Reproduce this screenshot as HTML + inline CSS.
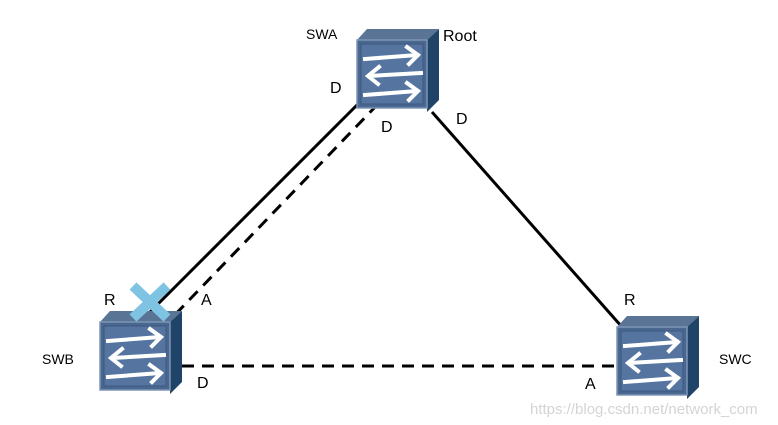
<!DOCTYPE html>
<html><head><meta charset="utf-8"><style>
html,body{margin:0;padding:0;background:#fff;}
svg{display:block;font-family:"Liberation Sans",sans-serif;}
</style></head><body>
<svg width="778" height="425" viewBox="0 0 778 425" xmlns="http://www.w3.org/2000/svg">
<defs>
<g id="sw">
 <polygon points="0,0 10,-11 82,-11 70,0" fill="#5a7496"/>
 <polygon points="70,0 82,-11 82,60 70,72" fill="#1f4468"/>
 <rect x="0" y="0" width="70" height="68" fill="#4a6790" stroke="#7d95b5" stroke-width="1.5"/>
 <rect x="4" y="4" width="62" height="60" fill="#5575a0" stroke="#3c5880" stroke-width="1"/>
 <g fill="none" stroke="#fff" stroke-width="4" stroke-linecap="square">
  <line x1="8" y1="19" x2="60" y2="15"/><polyline points="50,7 61,15 52,24"/>
  <line x1="64" y1="33" x2="12" y2="36"/><polyline points="22,27 11,36 21,44"/>
  <line x1="8" y1="55" x2="60" y2="51"/><polyline points="50,43 61,51 52,60"/>
 </g>
</g>
</defs>
<g stroke="#000" stroke-width="3" fill="none">
 <line x1="362" y1="100" x2="140" y2="322"/>
 <line x1="378" y1="104" x2="168" y2="322" stroke-dasharray="12,8"/>
 <line x1="432" y1="112" x2="622" y2="327"/>
 <line x1="182" y1="366" x2="617" y2="366" stroke-dasharray="12,8"/>
</g>
<use href="#sw" x="357" y="40"/>
<use href="#sw" x="100" y="322"/>
<use href="#sw" x="617" y="327"/>
<g stroke="#7ec4e2" stroke-width="10">
 <line x1="133" y1="286" x2="167" y2="318"/>
 <line x1="167" y1="286" x2="133" y2="318"/>
</g>
<g font-size="16" fill="#000">
 <text x="306" y="39" font-size="14">SWA</text>
 <text x="443" y="41">Root</text>
 <text x="330" y="93">D</text>
 <text x="381" y="132">D</text>
 <text x="456" y="124">D</text>
 <text x="104" y="305">R</text>
 <text x="201" y="305">A</text>
 <text x="42" y="364" font-size="14">SWB</text>
 <text x="197" y="388">D</text>
 <text x="624" y="305">R</text>
 <text x="585" y="389">A</text>
 <text x="719" y="364" font-size="14">SWC</text>
</g>
<text x="530" y="414" font-size="15" fill="#d4d4d4">https://blog.csdn.net/network_com</text>
</svg>
</body></html>
